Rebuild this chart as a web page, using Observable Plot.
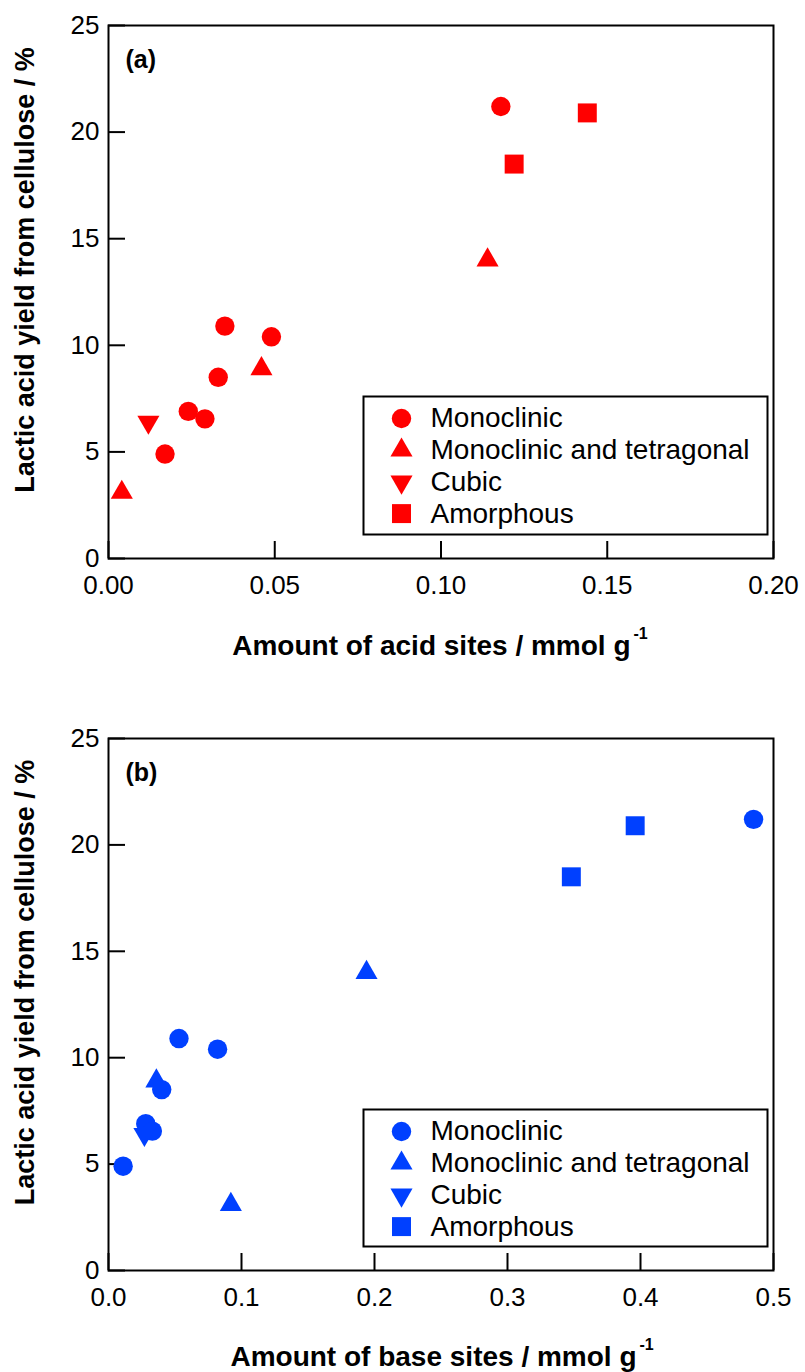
<!DOCTYPE html>
<html><head><meta charset="utf-8">
<script src="https://cdn.jsdelivr.net/npm/d3@7"></script>
<script src="https://cdn.jsdelivr.net/npm/@observablehq/plot@0.6"></script>
<style>
html,body{margin:0;padding:0;background:#fff;}
#wrap{position:relative;width:805px;height:1372px;overflow:hidden;}
#wrap svg{position:absolute;left:0;}
</style></head><body><div id="wrap"></div>
<script>
// ---- data ----
const phaseNames = ["Monoclinic", "Monoclinic and tetragonal", "Cubic", "Amorphous"];
const samplePhase = [
  "Monoclinic", "Monoclinic", "Monoclinic", "Monoclinic", "Monoclinic", "Monoclinic", "Monoclinic",
  "Monoclinic and tetragonal", "Monoclinic and tetragonal", "Monoclinic and tetragonal",
  "Cubic", "Amorphous", "Amorphous"
];
const acidSites = [0.035, 0.049, 0.033, 0.024, 0.029, 0.017, 0.118, 0.046, 0.004, 0.114, 0.012, 0.122, 0.144];
const baseSites = [0.053, 0.082, 0.040, 0.028, 0.033, 0.011, 0.485, 0.036, 0.092, 0.194, 0.027, 0.348, 0.396];
const lacticYield = [10.9, 10.4, 8.5, 6.9, 6.55, 4.9, 21.2, 8.9, 3.1, 14.0, 6.4, 18.5, 20.9];
const yTicks = [0, 5, 10, 15, 20, 25];
const acidTicks = [0, 0.05, 0.10, 0.15, 0.20];
const baseTicks = [0, 0.1, 0.2, 0.3, 0.4, 0.5];
const yTitle = "Lactic acid yield from cellulose / %";

const triangleDown = {draw(context, size) {
  const y = -Math.sqrt(size / (Math.sqrt(3) * 3));
  context.moveTo(0, -y * 2);
  context.lineTo(-Math.sqrt(3) * y, y);
  context.lineTo(Math.sqrt(3) * y, y);
  context.closePath();
}};
const symbolOf = {
  "Monoclinic": {symbol: "circle", r: 9.7},
  "Monoclinic and tetragonal": {symbol: "triangle", r: 8.2},
  "Cubic": {symbol: triangleDown, r: 8.2},
  "Amorphous": {symbol: "square", r: 10.7}
};

const FONT = "'Liberation Sans', Arial, sans-serif";
const W = 805, ML = 108, MR = 32;

function panel(o) {
  const plotW = W - ML - MR;
  const plotH = o.height - o.marginTop - o.marginBottom;
  const rows = samplePhase.map((p, i) => ({phase: p, x: o.xValues[i], y: lacticYield[i]}));
  const marks = [
    Plot.frame({stroke: "black", strokeWidth: 2}),
    Plot.ruleX(o.xTicks, {x: d => d, insetTop: plotH - 17, stroke: "black", strokeWidth: 2}),
    Plot.ruleY(yTicks, {y: d => d, insetRight: plotW - 17, stroke: "black", strokeWidth: 2}),
    Plot.axisX({ticks: o.xTicks, tickSize: 0, tickPadding: 17, tickFormat: o.xFormat, label: null, fontSize: 26}),
    Plot.axisY({ticks: yTicks, tickSize: 0, tickPadding: 9, tickFormat: d3.format("d"), label: null, fontSize: 26}),
  ];
  for (const p of phaseNames) {
    const s = symbolOf[p];
    marks.push(Plot.dot(rows.filter(d => d.phase === p), {x: "x", y: "y", symbol: s.symbol, r: s.r, fill: o.color, stroke: "none"}));
  }
  // legend inside the plot
  marks.push(Plot.frame({insetLeft: 255, insetRight: 6, insetTop: 371, insetBottom: 24, stroke: "black", strokeWidth: 2}));
  phaseNames.forEach((p, i) => {
    const s = symbolOf[p];
    marks.push(Plot.dot([p], {frameAnchor: "top-left", dx: 293, dy: 393 + i * 31.7, symbol: s.symbol, r: s.r, fill: o.color, stroke: "none"}));
    marks.push(Plot.text([p], {frameAnchor: "top-left", dx: 322, dy: 393 + i * 31.7, text: d => d, textAnchor: "start", lineAnchor: "middle", fontSize: 28, fill: "black"}));
  });
  // panel tag
  marks.push(Plot.text([o.tag], {frameAnchor: "top-left", dx: 17, dy: 25, text: d => d, textAnchor: "start", lineAnchor: "top", fontSize: 25, fontWeight: "bold"}));
  // y title
  marks.push(Plot.text([yTitle], {frameAnchor: "left", dx: -94, dy: -22, rotate: -90, text: d => d, textAnchor: "middle", lineAnchor: "top", fontSize: 27, fontWeight: "bold"}));
  // x title + superscript
  marks.push(Plot.text([o.xTitle], {frameAnchor: "bottom-left", dx: o.titleEnd - ML, dy: o.titleDy, text: d => d, textAnchor: "end", lineAnchor: "top", fontSize: 28, fontWeight: "bold"}));
  marks.push(Plot.text(["-1"], {frameAnchor: "bottom-left", dx: o.titleEnd - ML + 3, dy: o.titleDy - 8, text: d => d, textAnchor: "start", lineAnchor: "top", fontSize: 16, fontWeight: "bold"}));

  const svg = Plot.plot({
    width: W, height: o.height,
    marginLeft: ML, marginRight: MR, marginTop: o.marginTop, marginBottom: o.marginBottom,
    x: {domain: o.xDomain},
    y: {domain: [0, 25]},
    style: {fontFamily: FONT, fontSize: "26px", color: "black", background: "transparent", overflow: "visible"},
    marks
  });
  svg.style.top = o.top + "px";
  document.getElementById("wrap").appendChild(svg);
}

panel({
  top: 0, height: 700, marginTop: 25, marginBottom: 142,
  xValues: acidSites, xTicks: acidTicks, xDomain: [0, 0.2], xFormat: d3.format(".2f"),
  color: "#ff0000", tag: "(a)", xTitle: "Amount of acid sites / mmol g",
  titleEnd: 630, titleDy: 77
});
panel({
  top: 700, height: 672, marginTop: 38, marginBottom: 102,
  xValues: baseSites, xTicks: baseTicks, xDomain: [0, 0.5], xFormat: d3.format(".1f"),
  color: "#0040ff", tag: "(b)", xTitle: "Amount of base sites / mmol g",
  titleEnd: 636, titleDy: 76
});
</script></body></html>
